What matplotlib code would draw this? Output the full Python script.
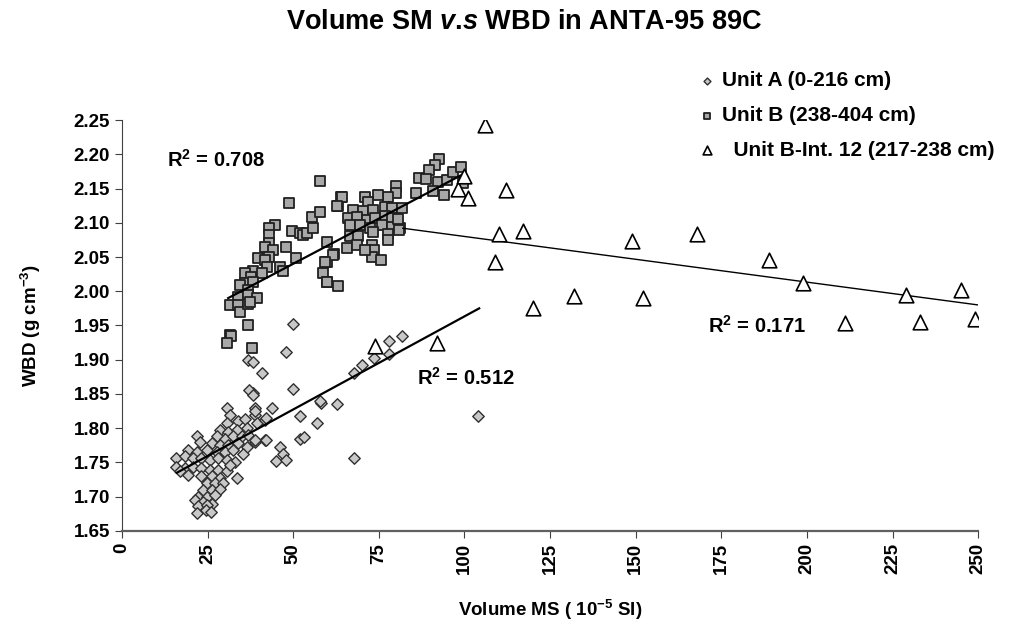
import matplotlib
matplotlib.use("Agg")
import matplotlib.pyplot as plt
import numpy as np

plt.rcParams['font.family'] = ['Liberation Sans', 'DejaVu Sans']
plt.rcParams['font.weight'] = 'bold'
plt.rcParams['axes.labelweight'] = 'bold'
plt.rcParams['mathtext.fontset'] = 'custom'
plt.rcParams['mathtext.it'] = 'Liberation Sans:italic:bold'
plt.rcParams['mathtext.rm'] = 'Liberation Sans:bold'
plt.rcParams['mathtext.default'] = 'regular'

# Unit A (0-216 cm)
unit_a_x = [38.3, 30.6, 38.8, 31.5, 34.0, 36.0, 38.8, 39.3, 41.8, 41.8, 38.8, 30.6,
            28.6, 31.0, 33.5, 36.4, 27.6, 30.1, 32.5, 34.9, 36.9, 21.8, 22.8, 26.2,
            28.6, 31.0, 34.0, 36.4, 19.3, 21.8, 24.7, 27.6, 30.1, 32.5, 35.4, 15.9,
            18.4, 20.8, 23.2, 25.7, 28.1, 30.6, 33.0, 15.9, 18.4, 20.8, 23.2, 25.7,
            28.1, 30.6, 17.0, 19.3, 23.2, 26.2, 28.6, 24.7, 27.2, 29.6, 23.7, 26.2,
            28.6, 22.3, 24.7, 27.2, 21.3, 23.7, 26.2, 22.3, 24.7, 33.5, 31.5, 22.0,
            24.5, 26.0,
            49.8, 48.0, 36.9, 38.3, 40.8, 37.2, 38.3, 49.8, 43.9, 38.8, 42.0, 52.0,
            58.0, 62.9, 56.9, 52.0, 53.2, 46.1, 47.1, 45.0, 47.9, 42.0, 38.8, 67.8,
            67.8, 70.0, 73.7, 78.0, 78.0, 81.9, 103.9, 57.8]
unit_a_y = [1.852, 1.829, 1.829, 1.819, 1.810, 1.814, 1.819, 1.807, 1.812, 1.783, 1.780, 1.807,
            1.797, 1.795, 1.797, 1.800, 1.788, 1.785, 1.788, 1.788, 1.790, 1.788, 1.780, 1.778,
            1.775, 1.775, 1.778, 1.773, 1.768, 1.766, 1.768, 1.766, 1.766, 1.768, 1.763, 1.756,
            1.759, 1.756, 1.756, 1.753, 1.756, 1.753, 1.751, 1.744, 1.742, 1.744, 1.742, 1.739,
            1.739, 1.737, 1.737, 1.732, 1.730, 1.730, 1.727, 1.720, 1.720, 1.720, 1.710, 1.710,
            1.712, 1.700, 1.700, 1.703, 1.695, 1.693, 1.690, 1.686, 1.688, 1.727, 1.746, 1.676,
            1.680, 1.678,
            1.952, 1.912, 1.900, 1.897, 1.880, 1.856, 1.849, 1.858, 1.830, 1.825, 1.815, 1.818,
            1.837, 1.835, 1.808, 1.785, 1.787, 1.773, 1.762, 1.752, 1.753, 1.783, 1.783, 1.756,
            1.880, 1.892, 1.902, 1.908, 1.927, 1.934, 1.818, 1.840]

# Unit B (238-404 cm)
unit_b_x = [44.7, 42.9, 42.9, 49.6, 52.0, 52.9, 53.9, 55.4, 55.9, 57.8, 47.8, 42.9,
            41.8, 44.2, 42.9, 39.8, 41.8, 42.2, 38.3, 40.8, 46.1, 47.1, 50.8, 35.9,
            37.8, 35.9, 38.3, 34.5, 36.9, 34.0, 36.9, 39.3, 31.5, 34.0, 34.5, 36.9,
            37.4, 36.9, 31.5, 59.8, 59.8, 58.8, 59.8, 57.8, 48.8, 63.0, 64.0, 62.0,
            60.0, 63.0, 31.7, 30.6, 38.0,
            92.7, 91.4, 89.7, 86.8, 88.8, 92.4, 95.0, 96.8, 99.0, 99.7, 93.9, 90.9,
            85.9, 80.0, 80.0, 77.8, 74.9, 71.0, 71.9, 64.1, 62.7, 67.5, 70.5, 73.4,
            76.8, 78.8, 81.7, 66.1, 68.5, 71.5, 73.9, 76.8, 78.8, 66.6, 69.5, 72.4,
            75.8, 78.8, 81.2, 66.6, 69.0, 73.4, 77.8, 77.8, 65.6, 68.7, 72.9, 73.7,
            72.9, 61.7, 59.3, 81.0, 80.5, 71.0, 75.5]
unit_b_y = [2.097, 2.092, 2.082, 2.088, 2.085, 2.082, 2.085, 2.109, 2.092, 2.116, 2.065, 2.070,
            2.065, 2.060, 2.050, 2.048, 2.046, 2.036, 2.029, 2.026, 2.036, 2.029, 2.048, 2.026,
            2.021, 2.012, 2.014, 2.009, 2.002, 1.992, 1.995, 1.990, 1.980, 1.980, 1.970, 1.981,
            1.985, 1.950, 1.936, 2.072, 2.043, 2.026, 2.014, 2.161, 2.129, 2.125, 2.138, 2.054,
            2.014, 2.008, 1.935, 1.924, 1.917,
            2.193, 2.184, 2.177, 2.166, 2.164, 2.159, 2.162, 2.174, 2.181, 2.158, 2.140, 2.147,
            2.143, 2.154, 2.143, 2.138, 2.140, 2.138, 2.131, 2.138, 2.125, 2.119, 2.117, 2.119,
            2.123, 2.121, 2.121, 2.107, 2.109, 2.104, 2.107, 2.110, 2.107, 2.097, 2.097, 2.093,
            2.097, 2.094, 2.093, 2.080, 2.081, 2.086, 2.083, 2.075, 2.063, 2.068, 2.068, 2.060,
            2.050, 2.053, 2.043, 2.090, 2.105, 2.060, 2.045]

# Unit B-Int. 12 (217-238 cm)
int12_x = [106, 112, 98, 100, 101, 110, 109, 117, 120, 132, 149, 152, 168, 189, 199,
           211, 229, 233, 245, 249, 74, 92]
int12_y = [2.242, 2.148, 2.150, 2.168, 2.136, 2.083, 2.042, 2.088, 1.975, 1.993, 2.073,
           1.990, 2.083, 2.045, 2.012, 1.953, 1.995, 1.955, 2.002, 1.960, 1.920, 1.925]

# trend lines (end points)
trend_a_x = [16, 104.3]
trend_a_y = [1.735, 1.975]
trend_b_x = [31, 100]
trend_b_y = [1.990, 2.172]
trend_c_x = [82, 250]
trend_c_y = [2.092, 1.980]

fig = plt.figure(figsize=(10.21, 6.34), dpi=100)
ax = fig.add_axes([0.1195, 0.1625, 0.8385, 0.6482])

ax.plot(trend_a_x, trend_a_y, color='black', lw=1.6, zorder=3)
ax.plot(trend_b_x, trend_b_y, color='black', lw=1.6, zorder=3)
ax.plot(trend_c_x, trend_c_y, color='black', lw=1.0, zorder=3)

ax.scatter(unit_a_x, unit_a_y, marker='D', s=34, facecolor='#c8c8c8',
           edgecolor='#303030', linewidth=1.0, zorder=2, label='Unit A (0-216 cm)')
ax.scatter(unit_b_x, unit_b_y, marker='s', s=56, facecolor='#a8a8a8',
           edgecolor='#202020', linewidth=1.3, zorder=2, label='Unit B (238-404 cm)')
ax.scatter(int12_x, int12_y, marker='^', s=110, facecolor='white',
           edgecolor='black', linewidth=1.2, zorder=4, label='  Unit B-Int. 12 (217-238 cm)')

ax.text(13, 2.192, 'R$^2$ = 0.708', fontsize=14.5, va='center')
ax.text(86, 1.873, 'R$^2$ = 0.512', fontsize=14.5, va='center')
ax.text(171, 1.950, 'R$^2$ = 0.171', fontsize=14.5, va='center')

ax.set_xlim(0, 250)
ax.set_ylim(1.65, 2.25)
ax.set_xticks(np.arange(0, 251, 25))
ax.set_yticks(np.arange(1.65, 2.251, 0.05))
ax.set_yticklabels([f'{v:.2f}' for v in np.arange(1.65, 2.251, 0.05)])
ax.tick_params(axis='x', labelrotation=90, labelsize=13.5, length=5, color='#404040')
ax.tick_params(axis='y', labelsize=13.5, length=5, color='#404040')
for side in ['top', 'right']:
    ax.spines[side].set_visible(False)
ax.spines['left'].set_color('#404040')
ax.spines['bottom'].set_color('#606060')
ax.spines['bottom'].set_linewidth(1.6)

ax.set_xlabel('Volume MS ( 10$^{-5}$ SI)', fontsize=13.5, labelpad=17)
ax.set_ylabel('WBD (g cm$^{-3}$)', fontsize=13.5, labelpad=22)

fig.text(0.513, 0.965, 'Volume SM $\\mathit{v}$.$\\mathit{s}$ WBD in ANTA-95 89C', ha='center',
         va='center', fontsize=19.5, fontweight='bold')

leg = ax.legend(loc='upper left', bbox_to_anchor=(0.664, 0.917),
                bbox_transform=fig.transFigure, frameon=False, fontsize=15,
                labelspacing=0.75, handletextpad=0.2, handlelength=1.0,
                markerscale=0.6, scatterpoints=1)

fig.savefig('out.png', dpi=100)
